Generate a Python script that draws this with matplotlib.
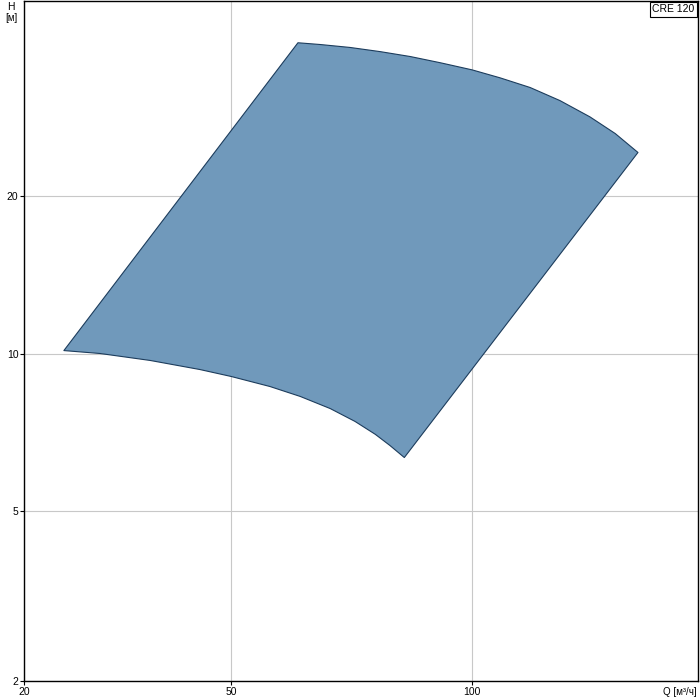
import matplotlib
matplotlib.use("Agg")
import matplotlib.pyplot as plt

plt.rcParams["font.family"] = ["Liberation Sans", "DejaVu Sans"]

# Operating range outline (Q in m3/h, H in m)
top_q = [60.6, 64.6, 70.4, 76.8, 83.7, 91.3, 100.0, 108.4, 118.2, 128.8, 140.4, 151.0, 161.2]
top_h = [39.2, 38.9, 38.4, 37.7, 36.9, 35.9, 34.8, 33.6, 32.2, 30.4, 28.3, 26.3, 24.2]
bottom_q = [30.9, 34.3, 39.6, 45.7, 50.0, 55.9, 61.0, 66.5, 71.4, 75.7, 79.0, 82.3]
bottom_h = [10.13, 10.0, 9.70, 9.32, 9.04, 8.65, 8.28, 7.85, 7.42, 7.01, 6.67, 6.33]

# axis range and ticks
q_min, q_max = 27.55, 191.6
h_min, h_max = 2.37, 47.1
q_ticks = [q_min, 50, 100]
q_labels = ["20", "50", "100"]
h_ticks = [h_min, 5, 10, 20]
h_labels = ["2", "5", "10", "20"]

# outline: top curve left->right, right side down, bottom curve right->left
poly_q = top_q + bottom_q[::-1]
poly_h = top_h + bottom_h[::-1]

fig = plt.figure(figsize=(7, 7), dpi=100)
ax = fig.add_axes([24 / 700, 19 / 700, 674 / 700, 680 / 700])

ax.fill(poly_q, poly_h, facecolor="#7099bb", edgecolor="#1c3c5c", linewidth=0.8,
        joinstyle="round", zorder=2)

ax.set_xscale("log")
ax.set_yscale("log")
ax.set_xlim(q_min, q_max)
ax.set_ylim(h_min, h_max)
ax.set_xticks(q_ticks)
ax.set_xticklabels(q_labels)
ax.set_yticks(h_ticks)
ax.set_yticklabels(h_labels)
ax.minorticks_off()
ax.tick_params(axis="both", labelsize=7.5, length=3, width=0.8, pad=1, colors="black")
ax.grid(True, color="#c8c8c8", linewidth=0.8, zorder=0)
ax.set_axisbelow(True)
for s in ax.spines.values():
    s.set_linewidth(1.0)
    s.set_color("black")

fig.text(11 / 700, 1 - 7 / 700, "H", fontsize=7.5, ha="center", va="center")
fig.text(11 / 700, 1 - 18 / 700, "[м]", fontsize=7, ha="center", va="center")
fig.text(697 / 700, 1 - 692 / 700, "Q [м³/ч]", fontsize=7, ha="right", va="center")
ax.text(0.995, 0.995, "CRE 120", transform=ax.transAxes, fontsize=7.5, ha="right", va="top",
        bbox=dict(boxstyle="square,pad=0.25", facecolor="white", edgecolor="black", linewidth=0.8))

fig.savefig("out.png", dpi=100)
